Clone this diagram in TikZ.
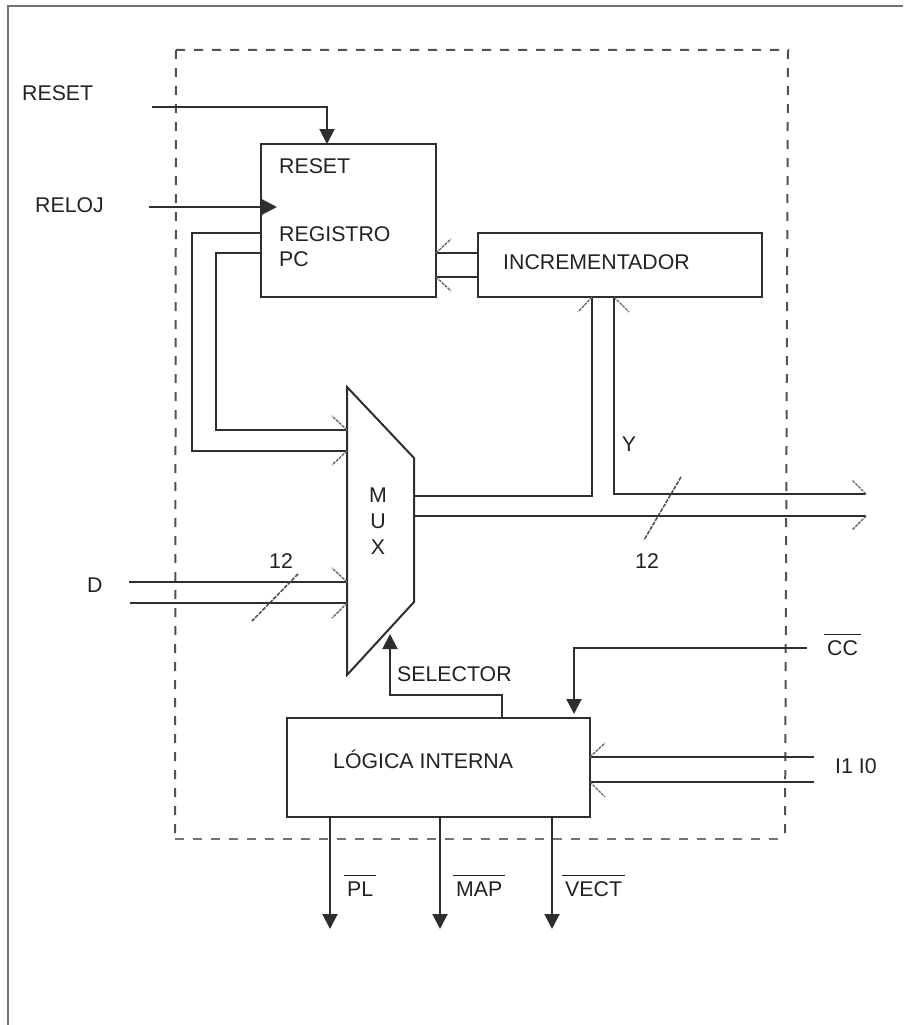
\documentclass[tikz,border=0pt]{standalone}
\usepackage{fontspec}
\setmainfont{Liberation Sans}
\usetikzlibrary{arrows.meta}
\definecolor{ink}{HTML}{2E2E2E}
\definecolor{txt}{HTML}{222222}
\newcommand{\ovbar}[1]{\vbox{\hrule height 1pt\kern5.5pt\hbox{\kern3pt #1\kern3pt}}}
\tikzset{
  wire/.style={draw=ink,line width=2pt,line join=miter},
  box/.style={draw=ink,line width=2pt,fill=none,inner sep=0pt},
  head/.style={-{Triangle[length=15pt,width=15pt,fill=ink]}},
  tick/.style={draw=black!60,line width=1.4pt,dash pattern=on 3pt off 1pt},
  slash/.style={draw=black!70,line width=1.5pt,dash pattern=on 4pt off 1.2pt},
  frontier/.style={draw=black!68,line width=2pt,dash pattern=on 9pt off 9pt},
  lbl/.style={inner sep=0pt,anchor=base west,text=txt,font=\fontsize{21.3}{25}\selectfont},
  clbl/.style={inner sep=0pt,anchor=base,text=txt,font=\fontsize{21.3}{25}\selectfont},
}
\begin{document}
\begin{tikzpicture}[x=1pt,y=-1pt]
\useasboundingbox (0,0) rectangle (903,1025);
% page edge
\coordinate (pa) at (8,1025); \coordinate (pb) at (8,6); \coordinate (pc) at (903,6);
\draw[draw=black!55,line width=1.6pt] (pa) -- (pb) -- (pc);
% dashed frontier
\coordinate (fa) at (176,50); \coordinate (fb) at (788,50); \coordinate (fc) at (785,839); \coordinate (fd) at (175,839);
\draw[frontier] (fa) -- (fb) -- (fc);
\draw[frontier] (fa) -- (fd);
\draw[frontier,draw=black!55,line width=1.8pt] (fd) -- (fc);
% boxes
\node[box,minimum width=175pt,minimum height=153pt] (reg) at (348.5,220.5) {};
\node[box,minimum width=284pt,minimum height=64pt] (inc) at (620,265) {};
\node[box,minimum width=303pt,minimum height=99pt] (log) at (438.5,767.5) {};
% mux
\coordinate (m1) at (347,387); \coordinate (m2) at (414,458); \coordinate (m3) at (414,602); \coordinate (m4) at (347,675);
\draw[wire] (m1) -- (m2) -- (m3) -- (m4) -- cycle;
% ports
\coordinate (rsti) at (152,107); \coordinate (rstc) at (327,107); \coordinate (rstp) at (327,144);
\coordinate (clki) at (149,207); \coordinate (clkp) at (277,207);
\coordinate (ro1) at (261,233); \coordinate (ro1a) at (192,233); \coordinate (ro1b) at (192,451); \coordinate (mi1) at (347,451);
\coordinate (ro2) at (261,253); \coordinate (ro2a) at (216,253); \coordinate (ro2b) at (216,430); \coordinate (mi2) at (347,430);
\coordinate (ri1) at (436,253); \coordinate (io1) at (478,253);
\coordinate (ri2) at (436,277); \coordinate (io2) at (478,277);
\coordinate (mo1) at (414,496); \coordinate (mo1a) at (592,496); \coordinate (ii1) at (592,297);
\coordinate (ii2) at (614,297); \coordinate (y1) at (614,494); \coordinate (yo) at (866,494);
\coordinate (mo2) at (414,516); \coordinate (mo2e) at (866,516);
\coordinate (di1) at (129,582); \coordinate (mi3) at (347,582);
\coordinate (di2) at (130,603); \coordinate (mi4) at (347,603);
\coordinate (se0) at (502,718); \coordinate (se1) at (502,695); \coordinate (se2) at (390,695); \coordinate (se3) at (390,634);
\coordinate (cc0) at (807,648); \coordinate (cc1) at (574,648); \coordinate (cc2) at (574,714);
\coordinate (li1) at (590,757); \coordinate (le1) at (814,757);
\coordinate (li2) at (590,782); \coordinate (le2) at (814,782);
\coordinate (pl0) at (330,817); \coordinate (pl1) at (330,929);
\coordinate (ma0) at (440,817); \coordinate (ma1) at (440,929);
\coordinate (ve0) at (552,817); \coordinate (ve1) at (552,929);
% connectors
\draw[wire,head] (rsti) -- (rstc) -- (rstp);
\draw[wire,head] (clki) -- (clkp);
\draw[wire] (ro1) -- (ro1a) -- (ro1b) -- (mi1);
\draw[wire] (ro2) -- (ro2a) -- (ro2b) -- (mi2);
\draw[wire] (io1) -- (ri1);
\draw[wire] (io2) -- (ri2);
\draw[wire] (mo1) -- (mo1a) -- (ii1);
\draw[wire] (ii2) -- (y1) -- (yo);
\draw[wire] (mo2) -- (mo2e);
\draw[wire] (di1) -- (mi3);
\draw[wire] (di2) -- (mi4);
\draw[wire,head] (se0) -- (se1) -- (se2) -- (se3);
\draw[wire,head] (cc0) -- (cc1) -- (cc2);
\draw[wire] (le1) -- (li1);
\draw[wire] (le2) -- (li2);
\draw[wire,head] (pl0) -- (pl1);
\draw[wire,head] (ma0) -- (ma1);
\draw[wire,head] (ve0) -- (ve1);
% half-arrow ticks
\draw[tick] (ri1) -- ++(15,-14);
\draw[tick] (ri2) -- ++(15,14);
\draw[tick] (mi2) -- ++(-15,-14);
\draw[tick] (mi1) -- ++(-15,14);
\draw[tick] (ii1) -- ++(-14,15);
\draw[tick] (ii2) -- ++(15,15);
\draw[tick] (yo) -- ++(-14,-14);
\draw[tick] (mo2e) -- ++(-14,14);
\draw[tick] (mi3) -- ++(-15,-14);
\draw[tick] (mi4) -- ++(-15,15);
\draw[tick] (li1) -- ++(15,-14);
\draw[tick] (li2) -- ++(15,15);
% bus slashes
\coordinate (s1a) at (298,574); \coordinate (s1b) at (252,621);
\coordinate (s2a) at (681,477); \coordinate (s2b) at (644,540);
\draw[slash] (s1a) -- (s1b);
\draw[slash] (s2a) -- (s2b);
% labels
\node[lbl] (tRST) at (22,100) {RESET};
\node[lbl] (tCLK) at (35,212) {RELOJ};
\node[lbl] (tD) at (87,592) {D};
\node[lbl] (tRR) at (279,173) {RESET};
\node[lbl] (tRG) at (279,241) {REGISTRO};
\node[lbl] (tPC) at (279,266) {PC};
\node[lbl] (tIN) at (503,269) {INCREMENTADOR};
\node[clbl] (tM) at (378,502) {M};
\node[clbl] (tU) at (378,528) {U};
\node[clbl] (tX) at (378,554) {X};
\node[clbl] (tY) at (629,451) {Y};
\node[clbl] (t12a) at (281,568) {12};
\node[clbl] (t12b) at (647,568) {12};
\node[lbl] (tSE) at (397,681) {SELECTOR};
\node[lbl] (tLO) at (333,768) {LÓGICA INTERNA};
\node[lbl] (tI) at (835,773) {I1 I0};
\node[lbl] (tCC) at (824,655) {\ovbar{CC}};
\node[lbl] (tPL) at (344,896) {\ovbar{PL}};
\node[lbl] (tMA) at (453,896) {\ovbar{MAP}};
\node[lbl] (tVE) at (562,896) {\ovbar{VECT}};
\end{tikzpicture}
\end{document}
